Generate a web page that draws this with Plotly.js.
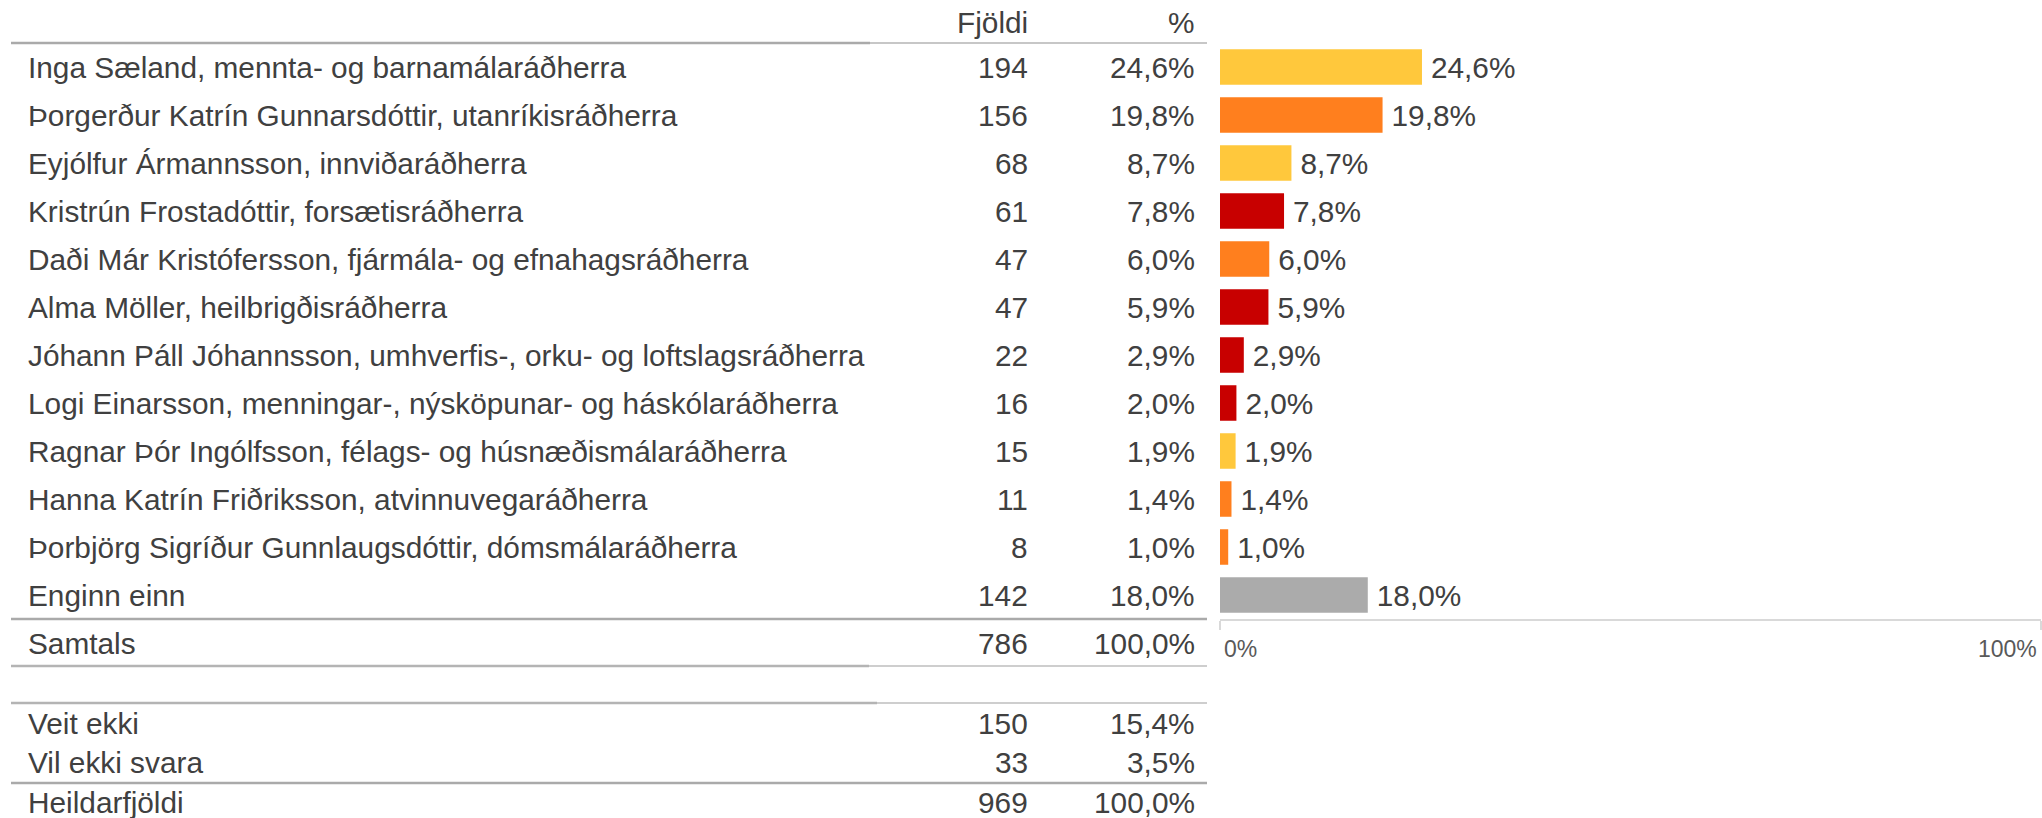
<!DOCTYPE html>
<html>
<head>
<meta charset="utf-8">
<script src="https://cdn.plot.ly/plotly-3.0.1.min.js"></script>
<style>html,body{margin:0;padding:0;background:#fff;}#chart{width:2042px;height:818px;}</style>
</head>
<body>
<div id="chart"></div>
<script>
// ---- data ----
const names = [
  'Inga Sæland, mennta- og barnamálaráðherra',
  'Þorgerður Katrín Gunnarsdóttir, utanríkisráðherra',
  'Eyjólfur Ármannsson, innviðaráðherra',
  'Kristrún Frostadóttir, forsætisráðherra',
  'Daði Már Kristófersson, fjármála- og efnahagsráðherra',
  'Alma Möller, heilbrigðisráðherra',
  'Jóhann Páll Jóhannsson, umhverfis-, orku- og loftslagsráðherra',
  'Logi Einarsson, menningar-, nýsköpunar- og háskólaráðherra',
  'Ragnar Þór Ingólfsson, félags- og húsnæðismálaráðherra',
  'Hanna Katrín Friðriksson, atvinnuvegaráðherra',
  'Þorbjörg Sigríður Gunnlaugsdóttir, dómsmálaráðherra',
  'Enginn einn'
];
const counts = [194, 156, 68, 61, 47, 47, 22, 16, 15, 11, 8, 142];
const pcts = [24.6, 19.8, 8.7, 7.8, 6.0, 5.9, 2.9, 2.0, 1.9, 1.4, 1.0, 18.0];

const summaryLabels = ['Samtals', 'Veit ekki', 'Vil ekki svara', 'Heildarfjöldi'];
const summaryCounts = [786, 150, 33, 969];
const summaryPcts = [100.0, 15.4, 3.5, 100.0];

const headers = ['Fjöldi', '%'];
const axisTickVals = [0, 100];
const axisTickText = ['0%', '100%'];

// ---- styles ----
const YEL = '#FFC83C', ORA = '#FF7F1E', RED = '#C80000', GRY = '#ABABAB';
const barColors = [YEL, ORA, YEL, RED, ORA, RED, RED, RED, YEL, ORA, ORA, GRY];

const W = 2042, H = 818;
const FONT = 'Arial, "Liberation Sans", sans-serif';
const TXT = '#404040';
const FS = 29.8;
const px = v => v / W;
const py = v => 1 - v / H;
const fmt = v => v.toFixed(1).replace('.', ',') + '%';

const X_NAME = 26, X_COUNT = 1030, X_PCT = 1197;
const Y_TOP = 43, Y_AXIS = 619;

const trace = {
  type: 'bar',
  orientation: 'h',
  x: pcts,
  y: names,
  width: 0.74,
  marker: {color: barColors, line: {width: 0}},
  text: pcts.map(v => '\u2009' + fmt(v)),
  textposition: 'outside',
  textfont: {family: FONT, size: FS, color: TXT},
  cliponaxis: false,
  hoverinfo: 'skip'
};

const ann = [];
function addText(text, x, xref, y, yref, anchor, size, color) {
  ann.push({text: text, x: x, xref: xref, y: y, yref: yref, xanchor: anchor, yanchor: 'middle',
    showarrow: false, font: {family: FONT, size: size || FS, color: color || TXT}});
}
// headers
addText(headers[0], px(X_COUNT), 'paper', py(23), 'paper', 'right');
addText(headers[1], px(X_PCT), 'paper', py(23), 'paper', 'right');
// main rows
names.forEach((n, i) => {
  addText(n, px(X_NAME), 'paper', n, 'y', 'left');
  addText(String(counts[i]), px(X_COUNT), 'paper', n, 'y', 'right');
  addText(fmt(pcts[i]), px(X_PCT), 'paper', n, 'y', 'right');
});
// summary rows
const sumY = [643, 723, 762, 802];
summaryLabels.forEach((s, i) => {
  addText(s, px(X_NAME), 'paper', py(sumY[i]), 'paper', 'left');
  addText(String(summaryCounts[i]), px(X_COUNT), 'paper', py(sumY[i]), 'paper', 'right');
  addText(fmt(summaryPcts[i]), px(X_PCT), 'paper', py(sumY[i]), 'paper', 'right');
});
// axis tick labels
ann.push({text: axisTickText[0], x: axisTickVals[0], xref: 'x', y: py(649), yref: 'paper',
  xanchor: 'left', yanchor: 'middle', xshift: 2, showarrow: false, font: {family: FONT, size: 23, color: '#595959'}});
ann.push({text: axisTickText[1], x: axisTickVals[1], xref: 'x', y: py(649), yref: 'paper',
  xanchor: 'right', yanchor: 'middle', xshift: -2, showarrow: false, font: {family: FONT, size: 23, color: '#595959'}});

// table rules
const shapes = [];
function hline(y, x0, x1, w, c) {
  shapes.push({type: 'line', xref: 'paper', yref: 'paper', x0: px(x0), x1: px(x1), y0: py(y), y1: py(y),
    line: {color: c, width: w}});
}
hline(43, 11, 870, 2.5, '#AAAAAA');
hline(43, 870, 1207, 1.5, '#B4B4B4');
hline(619, 11, 1207, 2.5, '#AAAAAA');
hline(666, 11, 869, 2.5, '#B4B4B4');
hline(666, 869, 1207, 1.5, '#BEBEBE');
hline(703, 11, 877, 2.5, '#B4B4B4');
hline(703, 877, 1207, 1.5, '#BEBEBE');
hline(783, 11, 1207, 2.5, '#AAAAAA');

const layout = {
  width: W, height: H,
  margin: {l: 0, r: 0, t: 0, b: 0, pad: 0},
  paper_bgcolor: '#fff', plot_bgcolor: '#fff',
  showlegend: false,
  font: {family: FONT, color: TXT},
  xaxis: {
    domain: [px(1220), px(2041)],
    range: [0, 100],
    showgrid: false, zeroline: false,
    showline: true, linecolor: '#D9D9D9', linewidth: 2,
    ticks: 'outside', tickvals: axisTickVals, ticklen: 9, tickcolor: '#D9D9D9', tickwidth: 2,
    showticklabels: false, fixedrange: true
  },
  yaxis: {
    domain: [py(Y_AXIS), py(Y_TOP)],
    type: 'category',
    categoryorder: 'array', categoryarray: names,
    range: [names.length - 0.5, -0.5],
    showgrid: false, zeroline: false, showline: false,
    showticklabels: false, ticks: '', fixedrange: true
  },
  annotations: ann,
  shapes: shapes
};

Plotly.newPlot('chart', [trace], layout, {displayModeBar: false, staticPlot: true});
</script>
</body>
</html>
